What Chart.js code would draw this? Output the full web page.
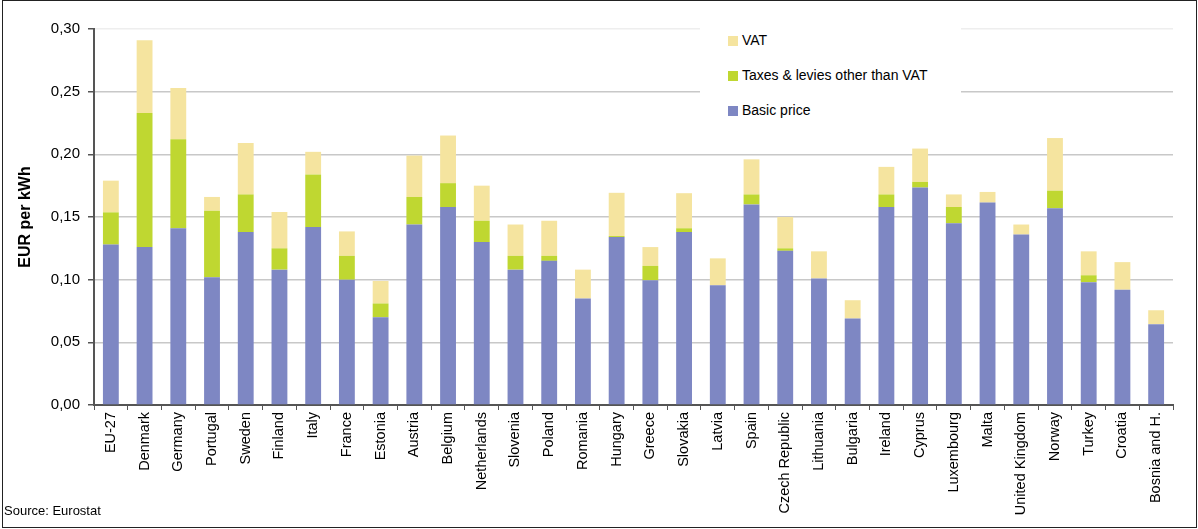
<!DOCTYPE html>
<html>
<head>
<meta charset="utf-8">
<script src="https://cdn.jsdelivr.net/npm/chart.js@4"></script>
<style>
  html, body { margin: 0; padding: 0; background: #fff; }
  #wrap { position: relative; width: 1198px; height: 529px; font-family: "Liberation Sans", Arial, sans-serif; }
  #frame { position: absolute; left: 2px; top: 0; width: 1193px; height: 526px; border: 1px solid #222; pointer-events: none; }
  canvas { position: absolute; left: 0; top: 0; }
  #legend { position: absolute; left: 700px; top: 20px; width: 261px; height: 105px; background: #fff; }
  .item { position: absolute; left: 28px; font-size: 14px; color: #000; line-height: 16px; }
  .item span { display: inline-block; width: 10px; height: 10px; margin-right: 4px; vertical-align: -1px; }
  #source { position: absolute; left: 4px; top: 503px; font-size: 13px; color: #000; }
</style>
</head>
<body>
<div id="wrap">
  <canvas id="chart" width="1198" height="529"></canvas>
  <div id="legend"></div>
  <div id="source">Source: Eurostat</div>
  <div id="frame"></div>
</div>
<script>
const COUNTRIES = [
  "EU-27", "Denmark", "Germany", "Portugal", "Sweden", "Finland", "Italy", "France",
  "Estonia", "Austria", "Belgium", "Netherlands", "Slovenia", "Poland", "Romania",
  "Hungary", "Greece", "Slovakia", "Latvia", "Spain", "Czech Republic", "Lithuania",
  "Bulgaria", "Ireland", "Cyprus", "Luxembourg", "Malta", "United Kingdom", "Norway",
  "Turkey", "Croatia", "Bosnia and H.",
];

// EUR per kWh
const BASIC_PRICE = [
  0.128, 0.126, 0.141, 0.102, 0.138, 0.108, 0.142, 0.100,
  0.070, 0.144, 0.158, 0.130, 0.108, 0.115, 0.085,
  0.134, 0.0995, 0.138, 0.0955, 0.160, 0.123, 0.101,
  0.069, 0.158, 0.1735, 0.145, 0.1615, 0.136, 0.157,
  0.098, 0.092, 0.0645,
];
const OTHER_TAXES = [
  0.0257, 0.107, 0.071, 0.053, 0.030, 0.017, 0.042, 0.019,
  0.011, 0.022, 0.019, 0.017, 0.011, 0.004, 0.0,
  0.0008, 0.0115, 0.003, 0.0, 0.008, 0.002, 0.0,
  0.0, 0.010, 0.0045, 0.013, 0.0, 0.0, 0.014,
  0.0055, 0.0, 0.0,
];
const VAT = [
  0.0253, 0.058, 0.041, 0.011, 0.041, 0.029, 0.018, 0.0195,
  0.018, 0.033, 0.038, 0.028, 0.025, 0.028, 0.023,
  0.0345, 0.015, 0.028, 0.0215, 0.028, 0.025, 0.0216,
  0.0146, 0.022, 0.0266, 0.010, 0.0085, 0.008, 0.042,
  0.0191, 0.022, 0.0111,
];
const Y_TICKS = [0, 0.05, 0.10, 0.15, 0.20, 0.25, 0.30];

const SERIES = [
  { label: "Basic price", data: BASIC_PRICE, color: "#7e87c3" },
  { label: "Taxes & levies other than VAT", data: OTHER_TAXES, color: "#bfd731" },
  { label: "VAT", data: VAT, color: "#f5e49f" },
];

/* ---------- legend (html, on top of the canvas) ---------- */

function renderLegend() {
  const box = document.getElementById("legend");
  [...SERIES].reverse().forEach((s, i) => {
    const div = document.createElement("div");
    div.className = "item";
    div.style.top = (12 + i * 35) + "px";
    div.innerHTML = `<span style="background:${s.color}"></span>${s.label}`;
    box.appendChild(div);
  });
}

/* ---------- chart ---------- */

function renderChart() {
  const tickFont = { family: "'Liberation Sans', Arial, sans-serif", size: 14.5 };

  new Chart(document.getElementById("chart"), {
    type: "bar",
    data: {
      labels: COUNTRIES,
      datasets: SERIES.map((s) => ({
        label: s.label,
        data: s.data,
        backgroundColor: s.color,
        borderWidth: 0,
        barPercentage: 0.47,
        categoryPercentage: 1,
      })),
    },
    options: {
      responsive: false,
      animation: false,
      layout: { padding: { left: 16, right: 25, top: 29, bottom: 14 } },
      plugins: { legend: { display: false }, tooltip: { enabled: false } },
      scales: {
        x: {
          stacked: true,
          grid: { display: true, drawOnChartArea: false, drawTicks: true, tickLength: 5, tickColor: "#555", offset: true },
          border: { color: "#555", width: 2 },
          ticks: { color: "#000", font: tickFont, minRotation: 90, maxRotation: 90, autoSkip: false, padding: 2 },
          afterFit: (scale) => { scale.height = 110; },
        },
        y: {
          stacked: true,
          min: 0,
          max: 0.30,
          afterBuildTicks: (scale) => { scale.ticks = Y_TICKS.map((v) => ({ value: v })); },
          grid: {
            color: (ctx) => (ctx.tick && ctx.tick.value >= 0.3 ? "#eeeeee" : "#c8c8c8"),
            lineWidth: 1.5,
            tickLength: 6,
            tickColor: "#555",
          },
          border: { color: "#555", width: 2 },
          ticks: {
            color: "#000",
            font: { family: "'Liberation Sans', Arial, sans-serif", size: 15 },
            padding: 8,
            callback: (v) => Number(v).toFixed(2).replace(".", ","),
          },
          title: {
            display: true,
            text: "EUR per kWh",
            color: "#000",
            font: { family: "'Liberation Sans', Arial, sans-serif", size: 16, weight: "bold" },
            padding: { top: 0, bottom: 4 },
          },
          afterFit: (scale) => { scale.width = 78; },
        },
      },
    },
  });
}

renderChart();
renderLegend();
</script>
</body>
</html>
